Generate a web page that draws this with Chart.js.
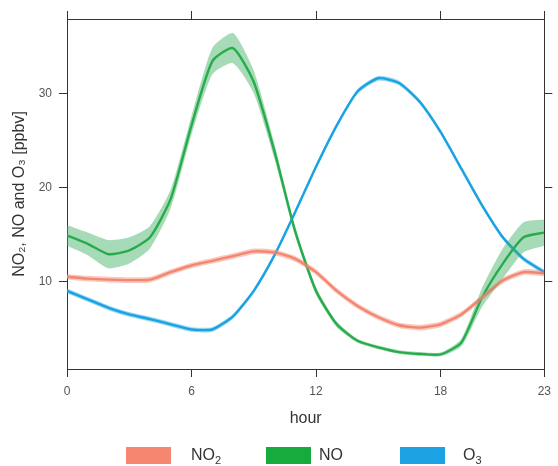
<!DOCTYPE html>
<html>
<head>
<meta charset="utf-8">
<script src="https://cdn.jsdelivr.net/npm/chart.js@4.4.1/dist/chart.umd.min.js"></script>
<style>
  body { margin: 0; background: #fff; }
  #wrap { position: relative; width: 558px; height: 466px; }
  #legend { position: absolute; left: 0; top: 447px; width: 558px; height: 18px;
            font-family: Arial, "Liberation Sans", sans-serif; font-size: 16px; color: #333; }
  .lg-box { position: absolute; top: 0; width: 45px; height: 17px; }
  .lg-txt { position: absolute; top: -1px; line-height: 18px; }
  .lg-txt sub { font-size: 11px; vertical-align: -4px; line-height: 0; }
</style>
</head>
<body>
<div id="wrap">
  <canvas id="chart"></canvas>
  <div id="legend"></div>
</div>
<script>
// hourly means
const hours = [0, 1, 2, 3, 4, 5, 6, 7, 8, 9, 10, 11, 12, 13, 14, 15, 16, 17, 18, 19, 20, 21, 22, 23];
const no2 = [10.5, 10.3, 10.2, 10.15, 10.2, 11.0, 11.7, 12.2, 12.7, 13.2, 13.1, 12.4, 11.0, 9.0, 7.4, 6.2, 5.35, 5.1, 5.45, 6.5, 8.3, 10.1, 11.0, 10.85];
const no = [14.9, 14.0, 12.9, 13.3, 14.7, 18.8, 26.6, 33.4, 34.8, 31.2, 23.8, 15.3, 9.0, 5.45, 3.7, 3.0, 2.5, 2.3, 2.25, 3.5, 8.3, 11.9, 14.7, 15.2];
const o3 = [9.0, 8.1, 7.2, 6.5, 6.0, 5.45, 4.9, 4.9, 6.3, 9.0, 12.8, 17.4, 22.2, 26.6, 30.2, 31.6, 31.1, 29.1, 25.9, 22.0, 18.1, 14.7, 12.4, 11.0];
// half width of the shaded confidence band
const no2Spread = [0.3, 0.3, 0.3, 0.3, 0.3, 0.3, 0.3, 0.3, 0.3, 0.3, 0.3, 0.3, 0.3, 0.3, 0.3, 0.3, 0.3, 0.3, 0.3, 0.3, 0.3, 0.3, 0.3, 0.3];
const noSpread = [1.1, 1.2, 1.5, 1.4, 1.2, 1.0, 1.0, 1.4, 1.6, 1.2, 0.8, 0.5, 0.4, 0.3, 0.2, 0.2, 0.2, 0.2, 0.2, 0.4, 1.0, 1.6, 1.6, 1.4];
const o3Spread = [0.25, 0.25, 0.25, 0.25, 0.25, 0.25, 0.25, 0.25, 0.25, 0.25, 0.25, 0.25, 0.25, 0.25, 0.25, 0.25, 0.25, 0.25, 0.25, 0.25, 0.25, 0.25, 0.25, 0.25];

const xTicks = [0, 6, 12, 18, 23];
const yTicks = [10, 20, 30];

const seriesNames = ['NO<sub>2</sub>', 'NO', 'O<sub>3</sub>'];

const colNO2 = '#f5866f';
const colNO = '#17aa3c';
const colO3 = '#1ba3e3';

const font = 'Arial, "Liberation Sans", sans-serif';

function pts(vals) {
    return hours.map((h, i) => ({ x: h, y: vals[i] }));
}
function band(vals, spread, sign) {
    return hours.map((h, i) => ({ x: h, y: vals[i] + sign * spread[i] }));
}

function bandSets(vals, spread, fillCol) {
    return [
        { label: '_lo', data: band(vals, spread, -1), borderWidth: 0, pointRadius: 0, fill: false, tension: 0.2 },
        { label: '_hi', data: band(vals, spread, 1), borderWidth: 0, pointRadius: 0, fill: '-1', backgroundColor: fillCol, tension: 0.2 }
    ];
}

function lineSet(label, vals, col) {
    return { label: label, data: pts(vals), borderColor: col, borderWidth: 2.4, pointRadius: 0, fill: false, tension: 0.2 };
}

// frame axes: ticks on all four sides, labels on left and bottom only
function frameGrid() {
    return { drawOnChartArea: false, drawTicks: true, tickLength: 8, color: '#333', lineWidth: 1 };
}

const ctx = document.getElementById('chart').getContext('2d');
const chart = new Chart(ctx, {
    type: 'line',
    data: {
        datasets: [
            ...bandSets(no2, no2Spread, 'rgba(245,134,111,0.45)'),
            ...bandSets(no, noSpread, 'rgba(60,175,95,0.45)'),
            ...bandSets(o3, o3Spread, 'rgba(27,163,227,0.45)'),
            lineSet('NO2', no2, colNO2),
            lineSet('NO', no, colNO),
            lineSet('O3', o3, colO3)
        ]
    },
    options: {
        responsive: true,
        maintainAspectRatio: false,
        animation: false,
        layout: { padding: { top: 11, right: 0, bottom: 34, left: 0 } },
        plugins: {
            legend: { display: false },
            tooltip: { enabled: false }
        },
        scales: {
            x: {
                type: 'linear', position: 'bottom', min: 0, max: 23,
                afterBuildTicks: s => { s.ticks = xTicks.map(v => ({ value: v })); },
                afterFit: s => { s.height = 63; },
                grid: frameGrid(),
                border: { display: true, color: '#333', width: 1 },
                ticks: { color: '#555', font: { family: font, size: 12 }, padding: 7, maxRotation: 0 },
                title: { display: true, text: 'hour', color: '#333', font: { family: font, size: 16 }, padding: { top: 0, bottom: 4 } }
            },
            x2: {
                type: 'linear', position: 'top', min: 0, max: 23,
                afterBuildTicks: s => { s.ticks = xTicks.map(v => ({ value: v })); },
                afterFit: s => { s.height = 8; },
                grid: frameGrid(),
                border: { display: true, color: '#333', width: 1 },
                ticks: { display: false }
            },
            y: {
                type: 'linear', position: 'left', min: 0.7, max: 37.9,
                afterBuildTicks: s => { s.ticks = yTicks.map(v => ({ value: v })); },
                afterFit: s => { s.width = 67; },
                grid: frameGrid(),
                border: { display: true, color: '#333', width: 1 },
                ticks: { color: '#555', font: { family: font, size: 12 }, padding: 7 },
                title: { display: true, text: 'NO₂, NO and O₃ [ppbv]', color: '#333', font: { family: font, size: 16 }, padding: { top: 10, bottom: 0 } }
            },
            y2: {
                type: 'linear', position: 'right', min: 0.7, max: 37.9,
                afterBuildTicks: s => { s.ticks = yTicks.map(v => ({ value: v })); },
                afterFit: s => { s.width = 8; },
                grid: frameGrid(),
                border: { display: true, color: '#333', width: 1 },
                ticks: { display: false }
            }
        }
    }
});

// html legend, so the subscripts stay real text
const legendCols = [colNO2, colNO, colO3];
const boxLeft = [126, 266, 400];
const txtLeft = [191, 319, 463];
const legend = document.getElementById('legend');
seriesNames.forEach((name, i) => {
    const b = document.createElement('div');
    b.className = 'lg-box';
    b.style.left = boxLeft[i] + 'px';
    b.style.background = legendCols[i];
    legend.appendChild(b);
    const t = document.createElement('div');
    t.className = 'lg-txt';
    t.style.left = txtLeft[i] + 'px';
    t.innerHTML = name;
    legend.appendChild(t);
});
</script>
</body>
</html>
